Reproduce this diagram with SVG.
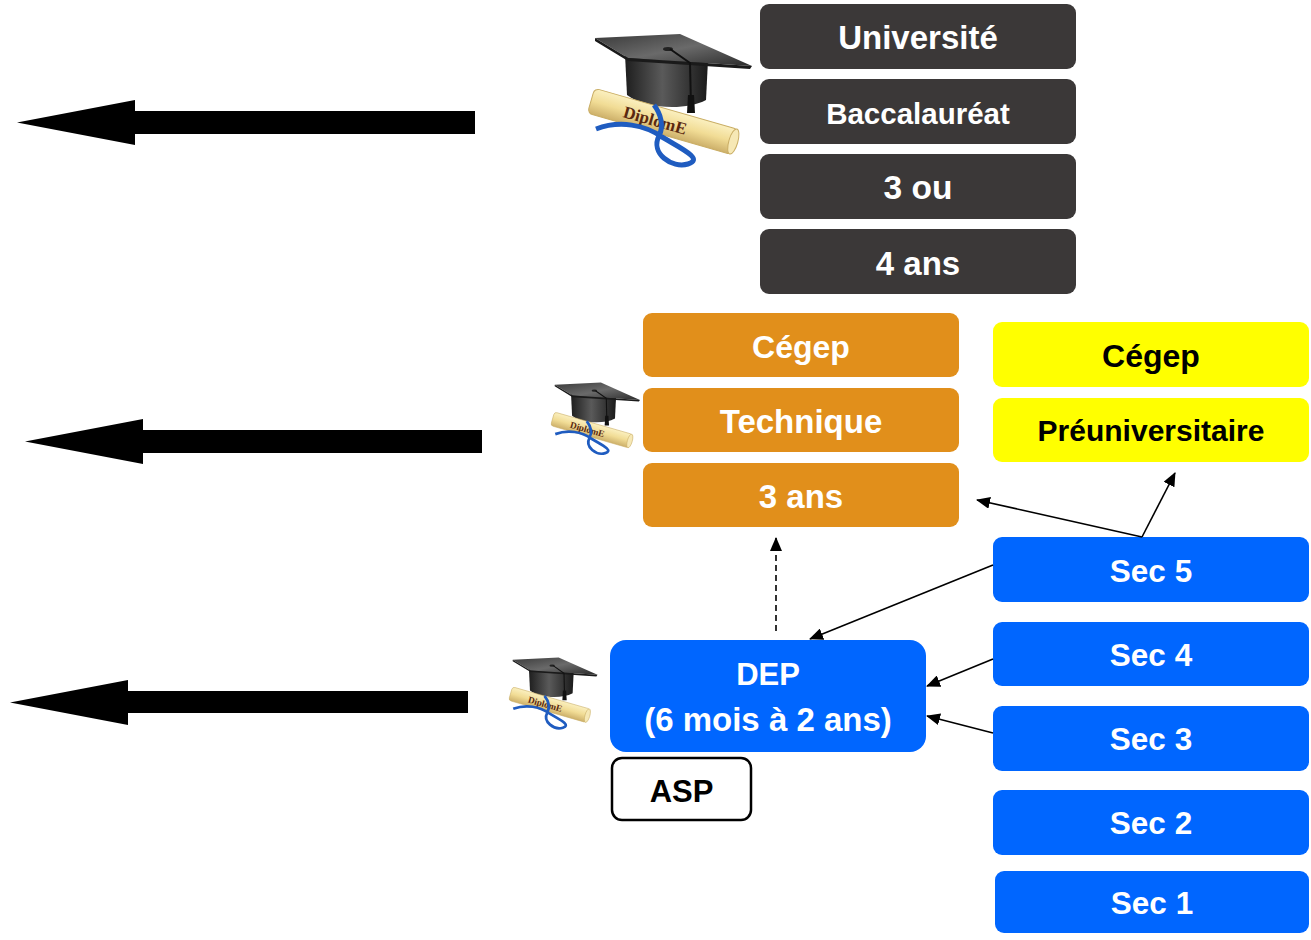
<svg xmlns="http://www.w3.org/2000/svg" width="1311" height="940" viewBox="0 0 1311 940">
<style>
  .t { font-family: "Liberation Sans", Arial, sans-serif; font-weight: bold; text-anchor: middle; }
  .w { fill: #FFFFFF; }
  .k { fill: #000000; }
  .dark { fill: #3B3838; }
  .orange { fill: #E18F1B; }
  .yellow { fill: #FFFF00; }
  .blue { fill: #0066FF; }
  .big { fill: #000000; }
  .con { stroke: #000000; stroke-width: 1.6; fill: none; }
</style>
<defs>
  <marker id="ah" markerUnits="userSpaceOnUse" markerWidth="14" markerHeight="12" refX="13" refY="6" orient="auto">
    <path d="M0,0 L14,6 L0,12 z" fill="#000"/>
  </marker>
  <linearGradient id="capg" x1="0" y1="0" x2="1" y2="0">
    <stop offset="0" stop-color="#1e1e1e"/>
    <stop offset="0.45" stop-color="#5a5a5a"/>
    <stop offset="1" stop-color="#1a1a1a"/>
  </linearGradient>
  <linearGradient id="boardg" x1="0" y1="0" x2="1" y2="1">
    <stop offset="0" stop-color="#3a3a3a"/>
    <stop offset="0.5" stop-color="#6a6a6a"/>
    <stop offset="1" stop-color="#2a2a2a"/>
  </linearGradient>
  <linearGradient id="scrollg" x1="0" y1="0" x2="0" y2="1">
    <stop offset="0" stop-color="#fbf0c0"/>
    <stop offset="0.5" stop-color="#f1dc95"/>
    <stop offset="1" stop-color="#cdb06a"/>
  </linearGradient>
  <g id="diploma">
    <!-- cap skull -->
    <path d="M35,21 L37,62 C55,76 96,78 116,67 L118,27 Z" fill="url(#capg)"/>
    <!-- board -->
    <path d="M5,5 L90,1 L162,33 L38,25 Z" fill="url(#boardg)"/>
    <path d="M5,5 L38,25 L162,33 L160,36 L38,28 L5,8 Z" fill="#1a1a1a"/>
    <ellipse cx="78" cy="16" rx="5" ry="2" fill="#222"/>
    <!-- tassel -->
    <path d="M80,16 L100,30 L101,72" stroke="#111" stroke-width="2" fill="none"/>
    <path d="M98,62 L104,62 L105,80 L97,80 Z" fill="#111"/>
    <!-- scroll -->
    <g transform="rotate(16 2 68)">
      <rect x="1" y="55" width="150" height="26" rx="5" fill="url(#scrollg)" stroke="#c9ad64" stroke-width="1"/>
      <ellipse cx="149" cy="68" rx="4.5" ry="13" fill="#f6e8b5" stroke="#c9ad64" stroke-width="1"/>
      <text x="68" y="75" font-family="Liberation Serif, serif" font-weight="bold" font-size="17" fill="#5a2810" text-anchor="middle">DiplomE</text>
    </g>
    <!-- ribbon -->
    <path d="M6,96 C30,87 55,92 72,104 C92,116 114,126 98,131 C82,136 60,120 69,103 C74,93 71,81 64,72" stroke="#1f5cc0" stroke-width="5" fill="none"/>
  </g>
</defs>

<g id="big-arrows">
  <polygon class="big" points="17,122.5 135,100 135,111 475,111 475,134 135,134 135,145"/>
  <polygon class="big" points="25,441.5 143,419 143,430 482,430 482,453 143,453 143,464"/>
  <polygon class="big" points="10,702.5 128,680 128,691 468,691 468,713 128,713 128,725"/>
</g>

<g id="icons">
  <use href="#diploma" transform="translate(590,33)"/>
  <use href="#diploma" transform="translate(552,382) scale(0.543)"/>
  <use href="#diploma" transform="translate(510,657) scale(0.54)"/>
</g>

<g id="universite"><rect class="dark" x="760" y="4" width="316" height="65" rx="9"/><text class="t w" x="918" y="49" font-size="33">Université</text></g>
<g id="baccalaureat"><rect class="dark" x="760" y="79" width="316" height="65" rx="9"/><text class="t w" x="918" y="124" font-size="29.5">Baccalauréat</text></g>
<g id="trois-ou"><rect class="dark" x="760" y="154" width="316" height="65" rx="9"/><text class="t w" x="918" y="199" font-size="33.5">3 ou</text></g>
<g id="quatre-ans"><rect class="dark" x="760" y="229" width="316" height="65" rx="9"/><text class="t w" x="918" y="275" font-size="33">4 ans</text></g>

<g id="cegep-tech"><rect class="orange" x="643" y="313" width="316" height="64" rx="9"/><text class="t w" x="801" y="358" font-size="32">Cégep</text></g>
<g id="technique"><rect class="orange" x="643" y="388" width="316" height="64" rx="9"/><text class="t w" x="801" y="433" font-size="33">Technique</text></g>
<g id="trois-ans"><rect class="orange" x="643" y="463" width="316" height="64" rx="9"/><text class="t w" x="801" y="508" font-size="33">3 ans</text></g>

<g id="cegep-preu"><rect class="yellow" x="993" y="322" width="316" height="65" rx="9"/><text class="t k" x="1151" y="367" font-size="32">Cégep</text></g>
<g id="preuniversitaire"><rect class="yellow" x="993" y="398" width="316" height="64" rx="9"/><text class="t k" x="1151" y="441" font-size="30">Préuniversitaire</text></g>

<g id="sec5"><rect class="blue" x="993" y="537" width="316" height="65" rx="9"/><text class="t w" x="1151" y="582" font-size="31.5">Sec 5</text></g>
<g id="sec4"><rect class="blue" x="993" y="622" width="316" height="64" rx="9"/><text class="t w" x="1151" y="666" font-size="31.5">Sec 4</text></g>
<g id="sec3"><rect class="blue" x="993" y="706" width="316" height="65" rx="9"/><text class="t w" x="1151" y="750" font-size="31.5">Sec 3</text></g>
<g id="sec2"><rect class="blue" x="993" y="790" width="316" height="65" rx="9"/><text class="t w" x="1151" y="834" font-size="31.5">Sec 2</text></g>
<g id="sec1"><rect class="blue" x="995" y="871" width="314" height="62" rx="9"/><text class="t w" x="1152" y="914" font-size="31.5">Sec 1</text></g>

<g id="dep"><rect class="blue" x="610" y="640" width="316" height="112" rx="16"/><text class="t w" x="768" y="685" font-size="31">DEP</text><text class="t w" x="768" y="731" font-size="33">(6 mois à 2 ans)</text></g>
<g id="asp"><rect x="612" y="758" width="139" height="62" rx="10" fill="#FFFFFF" stroke="#000" stroke-width="2.5"/><text class="t k" x="681.5" y="802" font-size="31">ASP</text></g>

<g id="connectors">
  <line class="con" x1="1142" y1="537" x2="977" y2="500" marker-end="url(#ah)"/>
  <line class="con" x1="1142" y1="537" x2="1175" y2="473" marker-end="url(#ah)"/>
  <line class="con" x1="993" y1="565" x2="810" y2="639" marker-end="url(#ah)"/>
  <line class="con" x1="993" y1="659" x2="927" y2="686" marker-end="url(#ah)"/>
  <line class="con" x1="993" y1="733" x2="927" y2="716" marker-end="url(#ah)"/>
  <line class="con" x1="776" y1="631" x2="776" y2="538" stroke-dasharray="6,4" marker-end="url(#ah)"/>
</g>
</svg>
